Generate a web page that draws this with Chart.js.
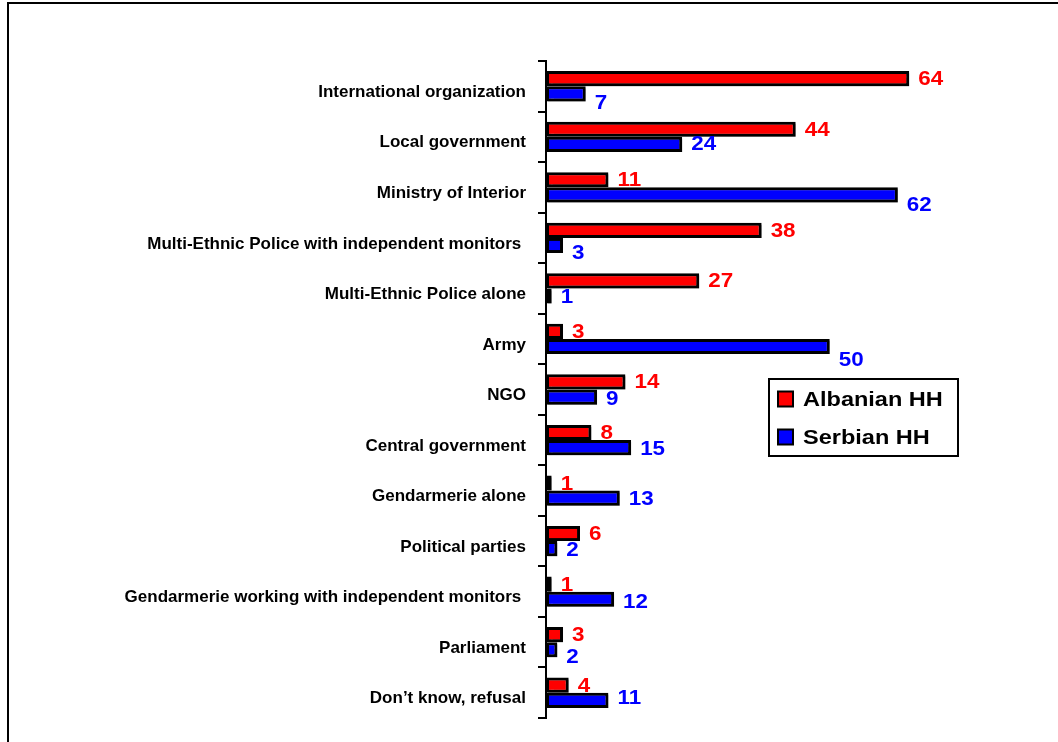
<!DOCTYPE html>
<html>
<head>
<meta charset="utf-8">
<script src="https://cdn.jsdelivr.net/npm/chart.js@4.4.0/dist/chart.umd.min.js"></script>
<style>
  html, body { margin: 0; padding: 0; background: #fff; }
  #wrap { position: relative; width: 1058px; height: 742px; }
</style>
</head>
<body>
<div id="wrap"><canvas id="c" width="1058" height="742"></canvas></div>
<script>
const categories = [
  'International organization',
  'Local government',
  'Ministry of Interior',
  'Multi-Ethnic Police with independent monitors ',
  'Multi-Ethnic Police alone',
  'Army',
  'NGO',
  'Central government',
  'Gendarmerie alone',
  'Political parties',
  'Gendarmerie working with independent monitors ',
  'Parliament',
  'Don\u2019t know, refusal'
];
const seriesNames = ['Albanian HH', 'Serbian HH'];
const albanianHH = [64, 44, 11, 38, 27, 3, 14, 8, 1, 6, 1, 3, 4];
const serbianHH  = [7, 24, 62, 3, 1, 50, 9, 15, 13, 2, 12, 2, 11];

const FONT = '"Liberation Sans", Arial, Helvetica, sans-serif';

const framePlugin = {
  id: 'frame',
  beforeDraw(chart) {
    const ctx = chart.ctx;
    ctx.save();
    ctx.strokeStyle = '#000';
    ctx.lineWidth = 2;
    ctx.beginPath();
    ctx.moveTo(8, chart.height);
    ctx.lineTo(8, 3);
    ctx.lineTo(chart.width, 3);
    ctx.stroke();
    ctx.restore();
  }
};

const shadowPlugin = {
  id: 'barShadow',
  beforeDatasetsDraw(chart) {
    const ctx = chart.ctx;
    ctx.save();
    ctx.shadowColor = 'rgba(0,0,0,0.35)';
    ctx.shadowOffsetX = 2;
    ctx.shadowOffsetY = 2;
    ctx.shadowBlur = 1;
  },
  afterDatasetsDraw(chart) {
    chart.ctx.restore();
  }
};

function stretchedText(ctx, text, x, y, sx) {
  ctx.save();
  ctx.translate(x, y);
  ctx.scale(sx, 1);
  ctx.fillText(text, 0, 0);
  ctx.restore();
}

const valueLabelPlugin = {
  id: 'valueLabels',
  afterDatasetsDraw(chart, args, opts) {
    const ctx = chart.ctx;
    ctx.save();
    ctx.font = 'bold 20px ' + FONT;
    ctx.textAlign = 'left';
    ctx.textBaseline = 'middle';
    chart.data.datasets.forEach((ds, di) => {
      const meta = chart.getDatasetMeta(di);
      const dyArr = (opts.dy && opts.dy[di]) || [];
      ctx.fillStyle = ds.labelColor;
      meta.data.forEach((bar, i) => {
        const v = ds.data[i];
        stretchedText(ctx, String(v), bar.x + 9, bar.y + 1 + (dyArr[i] || 0), 1.12);
      });
    });
    ctx.restore();
  }
};

const boxLegendPlugin = {
  id: 'boxLegend',
  afterDraw(chart, args, opts) {
    const ctx = chart.ctx;
    ctx.save();
    ctx.fillStyle = '#fff';
    ctx.fillRect(opts.x, opts.y, opts.w, opts.h);
    ctx.strokeStyle = '#000';
    ctx.lineWidth = 2;
    ctx.strokeRect(opts.x, opts.y, opts.w, opts.h);
    ctx.font = 'bold 21px ' + FONT;
    ctx.textAlign = 'left';
    ctx.textBaseline = 'middle';
    chart.data.datasets.forEach((ds, i) => {
      const cy = opts.y + opts.firstRow + i * opts.rowGap;
      ctx.fillStyle = ds.backgroundColor;
      ctx.fillRect(opts.x + 9, cy - 7.5, 15, 15);
      ctx.lineWidth = 2;
      ctx.strokeStyle = '#000';
      ctx.strokeRect(opts.x + 9, cy - 7.5, 15, 15);
      ctx.fillStyle = '#000';
      stretchedText(ctx, ds.label, opts.x + 34, cy + 1, 1.12);
    });
    ctx.restore();
  }
};

new Chart(document.getElementById('c'), {
  type: 'bar',
  data: {
    labels: categories,
    datasets: [
      {
        label: seriesNames[0],
        data: albanianHH,
        backgroundColor: '#FF0000',
        labelColor: '#FF0000',
        borderColor: '#000',
        borderWidth: 3,
        borderSkipped: false,
        categoryPercentage: 0.6,
        barPercentage: 1.0
      },
      {
        label: seriesNames[1],
        data: serbianHH,
        backgroundColor: '#0000FF',
        labelColor: '#0000FF',
        borderColor: '#000',
        borderWidth: 3,
        borderSkipped: false,
        categoryPercentage: 0.6,
        barPercentage: 1.0
      }
    ]
  },
  options: {
    indexAxis: 'y',
    responsive: false,
    animation: false,
    devicePixelRatio: 1,
    layout: { padding: { left: 0, top: 61, right: 58, bottom: 24 } },
    scales: {
      x: {
        display: false,
        min: 0,
        max: 80
      },
      y: {
        afterFit(scale) { scale.width = 546; },
        grid: {
          offset: true,
          drawOnChartArea: false,
          drawTicks: true,
          tickLength: 8,
          color: '#000',
          lineWidth: 2
        },
        border: { display: true, color: '#000', width: 2 },
        ticks: {
          color: '#000',
          padding: 12,
          labelOffset: 6,
          font: { family: FONT, size: 17, weight: 'bold' }
        }
      }
    },
    plugins: {
      legend: { display: false },
      tooltip: { enabled: false },
      valueLabels: {
        dy: [
          [0, 0, 0, 0, 0, 0, 0, 0, 0, 0, 0, 0, 0],
          [9, -1, 10, 7, 0, 13, 1, 1, 0, 1, 2, 7, -3]
        ]
      },
      boxLegend: { x: 769, y: 379, w: 189, h: 77, firstRow: 20, rowGap: 38 }
    }
  },
  plugins: [framePlugin, shadowPlugin, valueLabelPlugin, boxLegendPlugin]
});
</script>
</body>
</html>
